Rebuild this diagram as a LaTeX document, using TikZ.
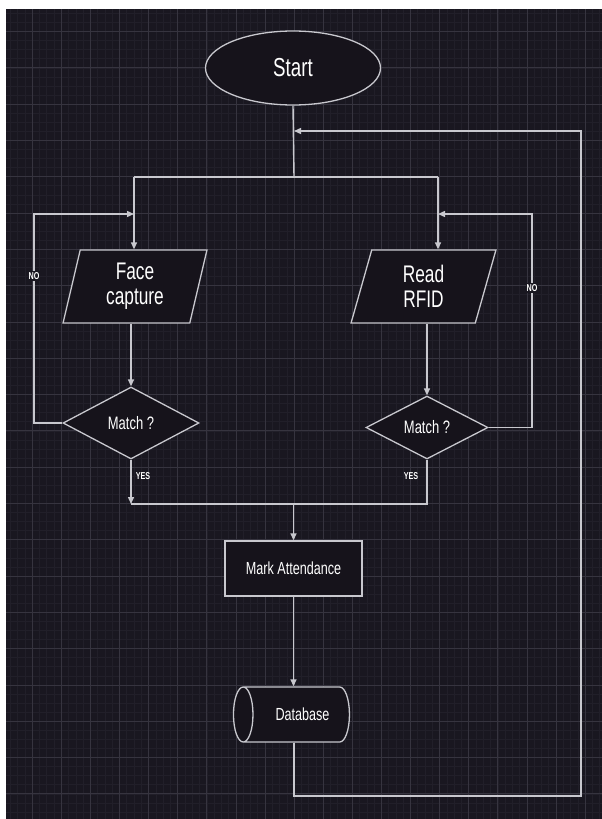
\documentclass[tikz,border=0pt]{standalone}
\usepackage{fontspec}
\setmainfont[FakeStretch=0.72]{Liberation Sans}
\usepackage{tikz}
\usetikzlibrary{positioning,shapes.geometric,arrows.meta}

\definecolor{bgdark}{RGB}{25,23,32}
\definecolor{shapefill}{RGB}{22,19,27}
\definecolor{gridminor}{RGB}{33,31,41}
\definecolor{gridmajor}{RGB}{54,52,63}
\definecolor{linec}{RGB}{200,200,206}

\tikzset{
  box/.style={draw=linec, line width=1.3pt, fill=shapefill, text=white},
  para/.style={box, trapezium, trapezium left angle=79, trapezium right angle=101,
    trapezium stretches=true, inner sep=0pt, align=center,
    font=\fontsize{24}{25}\selectfont},
  flow/.style={draw=linec, line width=1.4pt, -{Triangle[length=7pt,width=6pt]}},
  plain/.style={draw=linec, line width=1.4pt},
  lbl/.style={text=white, font=\fontsize{10}{11}\selectfont\bfseries, inner sep=1pt}
}

\begin{document}
\begin{tikzpicture}[x=1pt, y=-1pt]
    \useasboundingbox (0,0) rectangle (602,819);
    \fill[white] (0,0) rectangle (602,819);
    \fill[bgdark] (6,9) rectangle (602,819);
    % background grid
    \begin{scope}
      \clip (6,9) rectangle (602,819);
      \foreach \x in {3.1,10.375,...,602} {
        \draw[gridminor, line width=0.6pt] (\x,9) -- (\x,819);
      }
      \foreach \y in {13.35,22.425,...,819} {
        \draw[gridminor, line width=0.6pt] (6,\y) -- (602,\y);
      }
      \foreach \x in {3.1,32.2,...,602} {
        \draw[gridmajor, line width=0.8pt] (\x,9) -- (\x,819);
      }
      \foreach \y in {31.5,67.8,...,819} {
        \draw[gridmajor, line width=0.8pt] (6,\y) -- (602,\y);
      }
    \end{scope}

    \node[box, ellipse, minimum width=175pt, minimum height=74pt,
      font=\fontsize{26}{28}\selectfont] (start) at (293,68) {Start};
    \node[para, minimum width=144pt, minimum height=73pt] (face) at (135,286.5) {Face\\capture};
    \node[para, minimum width=145pt, minimum height=73pt] (rfid) at (423.5,286.5) {Read\\RFID};
    \node[box, diamond, aspect=1.89, minimum width=136pt, minimum height=72pt,
      inner sep=0pt, font=\fontsize{18}{20}\selectfont] (match1) at (131,423) {Match ?};
    \node[box, diamond, aspect=1.94, minimum width=122pt, minimum height=63pt,
      inner sep=0pt, font=\fontsize{18}{20}\selectfont] (match2) at (427,427.5) {Match ?};
    \node[box, minimum width=137pt, minimum height=55pt,
      font=\fontsize{17.5}{19}\selectfont] (mark) at (293.5,568.5) {Mark Attendance};
    \node[box, cylinder, shape border rotate=180, aspect=1.0,
      minimum width=55pt, minimum height=116pt,
      font=\fontsize{17.5}{19}\selectfont] (db) at (299,714.5) {\hspace*{7pt}Database};

    \coordinate (fork) at (294,177);
    \coordinate (forkL) at (134,177);
    \coordinate (forkR) at (438,177);
    \coordinate (merge) at (131,504);
    \coordinate (loopL) at (34,214);
    \coordinate (loopR) at (532,214);
    \coordinate (retBL) at (294,796);
    \coordinate (retBR) at (581,796);
    \coordinate (retTR) at (581,131);
    \coordinate (rejoin) at (294,131);

    \draw[plain] (start.south) -- (fork);
    \draw[plain] (forkL) -- (forkR);
    \draw[flow] (forkL) -- (forkL |- face.north);
    \draw[flow] (forkR) -- (forkR |- rfid.north);
    \draw[flow] (match1 |- face.south) -- (match1.north);
    \draw[flow] (match2 |- rfid.south) -- (match2.north);
    \draw[flow] (match1.west) -| (loopL) -- (forkL |- loopL);
    \draw[flow] (match2.east) -| (loopR) -- (forkR |- loopR);
    \draw[flow] (match1.south) -- (merge);
    \draw[plain] (match2.south) -- (match2 |- merge) -- (merge);
    \draw[flow] (mark |- merge) -- (mark.north);
    \draw[flow] (mark.south) -- (mark |- db.north);
    \draw[flow] (retBL |- db.south) -- (retBL) -- (retBR) -- (retTR) -- (rejoin);

    \node[lbl, fill=bgdark] (noL) at (34,276) {NO};
    \node[lbl, fill=bgdark] (noR) at (532,288) {NO};
    \node[lbl] (yesL) at (143,476) {YES};
    \node[lbl] (yesR) at (411,476) {YES};
\end{tikzpicture}
\end{document}
